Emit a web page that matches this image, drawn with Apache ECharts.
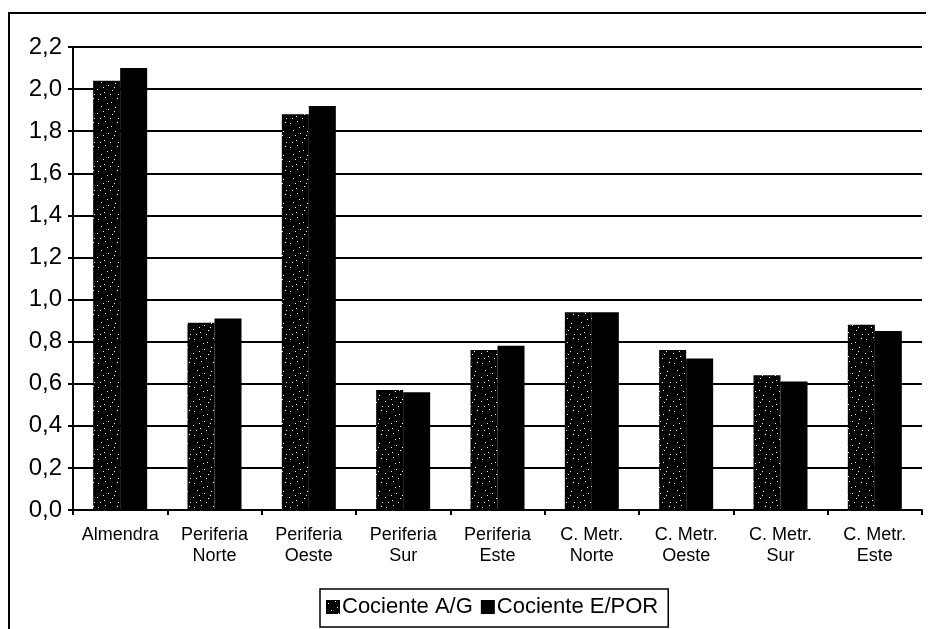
<!DOCTYPE html>
<html>
<head>
<meta charset="utf-8">
<script src="https://cdn.jsdelivr.net/npm/echarts@6/dist/echarts.min.js"></script>
<style>
html,body{margin:0;padding:0;background:#fff;}
#chart{width:928px;height:629px;}
</style>
</head>
<body>
<div id="chart"></div>
<script>
const categories = ['Almendra', 'Periferia\nNorte', 'Periferia\nOeste', 'Periferia\nSur', 'Periferia\nEste', 'C. Metr.\nNorte', 'C. Metr.\nOeste', 'C. Metr.\nSur', 'C. Metr.\nEste'];
const cocienteAG = [2.04, 0.89, 1.88, 0.57, 0.76, 0.94, 0.76, 0.64, 0.88];
const cocienteEPOR = [2.10, 0.91, 1.92, 0.56, 0.78, 0.94, 0.72, 0.61, 0.85];
const seriesNames = ['Cociente A/G', 'Cociente E/POR'];

// speckled texture for the first series (fixed pattern)
function makeSpeckle() {
  const c = document.createElement('canvas');
  c.width = 24; c.height = 24;
  const ctx = c.getContext('2d');
  ctx.fillStyle = '#000';
  ctx.fillRect(0, 0, 24, 24);
  ctx.fillStyle = '#fff';
  const pts = [[2,3],[9,1],[15,6],[21,2],[5,10],[12,13],[19,11],[1,17],[8,20],[16,18],[22,22],[11,7],[4,22],[18,15],[7,15],[14,22]];
  pts.forEach(p => ctx.fillRect(p[0], p[1], 1, 1));
  return c;
}
const speckle = makeSpeckle();

const chart = echarts.init(document.getElementById('chart'), null, {renderer: 'canvas'});
const font = '"Liberation Sans", Arial, sans-serif';
chart.setOption({
  backgroundColor: '#fff',
  animation: false,
  grid: {left: 73, right: 6, top: 47, bottom: 119},
  legend: {
    data: seriesNames,
    left: 320, top: 589,
    orient: 'horizontal',
    itemWidth: 14, itemHeight: 14, itemGap: 8,
    padding: [7, 10, 9, 6],
    borderColor: '#000', borderWidth: 1.5,
    icon: 'rect',
    textStyle: {fontFamily: font, fontSize: 22, color: '#000', padding: [0, 0, 0, -3]}
  },
  graphic: [
    {type: 'polyline', shape: {points: [[9, 629], [9, 13], [926, 13]]}, style: {stroke: '#000', lineWidth: 2, fill: null}}
  ],
  xAxis: {
    type: 'category',
    data: categories,
    axisLine: {lineStyle: {color: '#000', width: 2}},
    axisTick: {show: true, length: 5, lineStyle: {color: '#000', width: 2}},
    axisLabel: {fontFamily: font, fontSize: 18, color: '#000', margin: 15, lineHeight: 21, interval: 0}
  },
  yAxis: {
    type: 'value',
    min: 0, max: 2.2, interval: 0.2,
    axisLine: {show: true, lineStyle: {color: '#000', width: 2}},
    axisTick: {show: true, length: 5, lineStyle: {color: '#000', width: 2}},
    splitLine: {lineStyle: {color: '#000', width: 2}},
    axisLabel: {fontFamily: font, fontSize: 24, color: '#000', margin: 11,
      formatter: v => v.toFixed(1).replace('.', ',')}
  },
  series: [
    {name: seriesNames[0], type: 'bar', data: cocienteAG, barWidth: 27, barGap: '0%',
     itemStyle: {color: {image: speckle, repeat: 'repeat'}}},
    {name: seriesNames[1], type: 'bar', data: cocienteEPOR, barWidth: 27, barGap: '0%',
     itemStyle: {color: '#000'}}
  ]
});
</script>
</body>
</html>
